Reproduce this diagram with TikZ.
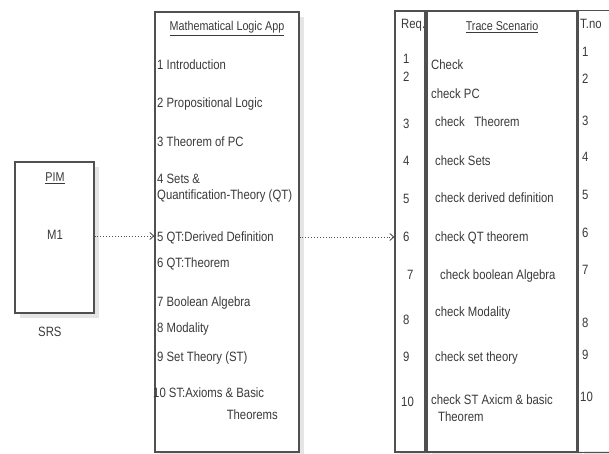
\documentclass[tikz,border=0pt]{standalone}
\usepackage{fontspec}
\setmainfont[FakeStretch=0.84]{Liberation Sans}
\usetikzlibrary{arrows.meta,shadows}
\definecolor{ink}{HTML}{3A3A3A}
\definecolor{edge}{HTML}{505050}
\begin{document}
\begin{tikzpicture}[x=1pt,y=-1pt,
  box/.style={draw=edge,fill=white,line width=1.1pt,inner sep=0pt,
    drop shadow={shadow xshift=5pt,shadow yshift=-5pt,fill=black!10,opacity=1}},
  txt/.style={anchor=base west,inner sep=0pt,text=ink,font=\fontsize{13.5}{15}\selectfont},
  ctxt/.style={txt,anchor=base,font=\fontsize{12.8}{15}\selectfont},
  rtxt/.style={txt,anchor=base east},
  link/.style={draw=edge,line width=0.9pt,dotted,-{Straight Barb[length=4pt,width=7pt]}}]
\useasboundingbox (0,0) rectangle (609,454);
% PIM box
\node[box,minimum width=79pt,minimum height=151pt] (pim) at (54.5,237.5) {};
\node[ctxt] (pimt) at (55,182) {\underline{PIM}};
\node[txt] (m1) at (47,239) {M1};
\node[txt] (srs) at (38,336) {SRS};
% Math box
\node[box,minimum width=144pt,minimum height=440pt] (math) at (227,232) {};
\node[ctxt] (matht) at (227,31) {\underline{Mathematical Logic App}};
\node[txt] (l1) at (157,70) {1 Introduction};
\node[txt] (l2) at (157,108) {2 Propositional Logic};
\node[txt] (l3) at (157,147) {3 Theorem of PC};
\node[txt] (l4) at (157,184) {4 Sets \&};
\node[txt] (l4b) at (157,199) {Quantification-Theory (QT)};
\node[txt] (l5) at (157,241) {5 QT:Derived Definition};
\node[txt] (l6) at (157,267) {6 QT:Theorem};
\node[txt] (l7) at (157,306) {7 Boolean Algebra};
\node[txt] (l8) at (157,332) {8 Modality};
\node[txt] (l9) at (157,361) {9 Set Theory (ST)};
\node[txt] (l10) at (153,397) {10 ST:Axioms \& Basic};
\node[rtxt] (l10b) at (278,419) {Theorems};
% Trace table
\node[box,minimum width=30pt,minimum height=441pt] (req) at (410,231.5) {};
\node[box,minimum width=150pt,minimum height=441pt] (trace) at (502,231.5) {};
\node[inner sep=0pt,minimum width=32pt,minimum height=441pt] (tno) at (595,231.5) {};
\fill[black!10] (584,16) rectangle (609,457);
\fill[white] (579,12) rectangle (609,451);
\draw[edge,line width=1.1pt] (tno.north east) -- (tno.north west) -- (tno.south west) -- (tno.south east);
\node[txt] (reqh) at (401,29) {Req.};
\node[ctxt] (traceh) at (502,31) {\underline{Trace Scenario}};
\node[txt] (tnoh) at (580,29) {T.no};
% Req numbers
\node[txt] (r1) at (403,64) {1};
\node[txt] (r2) at (403,82) {2};
\node[txt] (r3) at (403,129) {3};
\node[txt] (r4) at (403,166) {4};
\node[txt] (r5) at (403,204) {5};
\node[txt] (r6) at (403,241) {6};
\node[txt] (r7) at (407,279) {7};
\node[txt] (r8) at (403,324) {8};
\node[txt] (r9) at (403,361) {9};
\node[txt] (r10) at (401,406) {10};
% Trace scenarios
\node[txt] (s1) at (431,70) {Check};
\node[txt] (s2) at (431,99) {check PC};
\node[txt] (s3) at (435,127) {check\ \ \ Theorem};
\node[txt] (s4) at (435,166) {check Sets};
\node[txt] (s5) at (435,202) {check derived definition};
\node[txt] (s6) at (435,241) {check QT theorem};
\node[txt] (s7) at (440,279) {check boolean Algebra};
\node[txt] (s8) at (435,316) {check Modality};
\node[txt] (s9) at (435,361) {check set theory};
\node[txt] (s10) at (431,404) {check ST Axicm \& basic};
\node[txt] (s10b) at (438,421) {Theorem};
% T.no numbers
\node[txt] (t1) at (582,57) {1};
\node[txt] (t2) at (582,84) {2};
\node[txt] (t3) at (582,126) {3};
\node[txt] (t4) at (582,162) {4};
\node[txt] (t5) at (582,199) {5};
\node[txt] (t6) at (582,237) {6};
\node[txt] (t7) at (582,274) {7};
\node[txt] (t8) at (582,327) {8};
\node[txt] (t9) at (582,359) {9};
\node[txt] (t10) at (580,401) {10};
% connectors
\draw[link] (pim.east |- 0,236) -- (math.west |- 0,236);
\draw[link] (math.east |- 0,237) -- (req.west |- 0,237);
\end{tikzpicture}
\end{document}
